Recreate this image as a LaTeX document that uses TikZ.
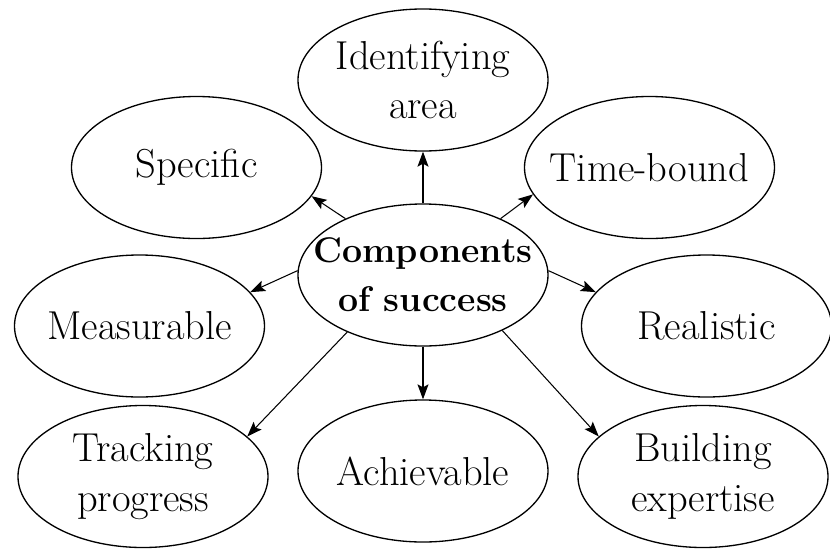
\documentclass[tikz,border=0pt]{standalone}
\usepackage{tikz}
\usetikzlibrary{arrows.meta, positioning, shapes.geometric}

\begin{document}
\begin{tikzpicture}[on grid, bubble/.style = {draw, ellipse, line width=0.75pt, minimum width=5cm, minimum height=2.84cm, inner ysep=0pt, inner xsep=-5mm, align=center, font=\fontsize{23}{28}\selectfont}, arr/.style = {-{Stealth[length=3mm, width=2.2mm, inset=0.6mm]}, line width=0.6pt}]
    \useasboundingbox (-8.46,-5.46) rectangle (8.14,5.5);
    \node[bubble, inner xsep=-7mm, font=\bfseries\fontsize{20.3}{28}\selectfont] (ctr) {Components\\of success};
    \node[bubble] (ident) [above=3.9cm of ctr] {Identifying\\area};
    \node[bubble] (spec) [above left=2.15cm and 4.53cm of ctr] {Specific};
    \node[bubble] (time) [above right=2.15cm and 4.53cm of ctr] {Time-bound};
    \node[bubble] (meas) [below left=1.02cm and 5.67cm of ctr] {Measurable};
    \node[bubble] (real) [below right=1.02cm and 5.67cm of ctr] {Realistic};
    \node[bubble] (track) [below left=4.03cm and 5.6cm of ctr] {Tracking\\progress};
    \node[bubble] (achv) [below=3.92cm of ctr] {Achievable};
    \node[bubble] (build) [below right=4.03cm and 5.6cm of ctr] {Building\\expertise};


    \path[arr] (ctr.90) edge[] (ident.-90);
    \path[arr] (ctr.144) edge[] (spec.-14);
    \path[arr] (ctr.36) edge[] (time.-167);
    \path[arr] (ctr.178) edge[] (meas.17);
    \path[arr] (ctr.2) edge[] (real.163);
    \path[arr] (ctr.-143) edge[] (track.21);
    \path[arr] (ctr.-90) edge[] (achv.90);
    \path[arr] (ctr.-35) edge[] (build.159);
  \end{tikzpicture}
\end{document}
